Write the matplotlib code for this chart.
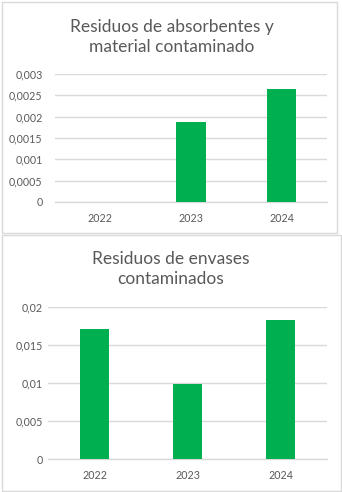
import matplotlib
matplotlib.use("Agg")
import matplotlib.pyplot as plt
from matplotlib.patches import Rectangle

# ---- data ----
years = ["2022", "2023", "2024"]
absorbentes = [0.0, 0.001875, 0.00266]
envases = [0.01714, 0.00991, 0.01833]
title_top = "Residuos de absorbentes y\nmaterial contaminado"
title_bottom = "Residuos de envases\ncontaminados"
yticks_top = [0, 0.0005, 0.001, 0.0015, 0.002, 0.0025, 0.003]
yticklabels_top = ["0", "0,0005", "0,001", "0,0015", "0,002", "0,0025", "0,003"]
yticks_bottom = [0, 0.005, 0.01, 0.015, 0.02]
yticklabels_bottom = ["0", "0,005", "0,01", "0,015", "0,02"]

W, H = 342, 492
GREEN = "#00B050"
GRID = "#d9d9d9"
TXT = "#595959"
FONT = ["Lato", "DejaVu Sans"]
plt.rcParams["font.family"] = FONT

fig = plt.figure(figsize=(W / 100, H / 100), dpi=100)
fig.patch.set_facecolor("white")


def px_axes(x0, y0, x1, y1):
    return fig.add_axes([x0 / W, (H - y1) / H, (x1 - x0) / W, (y1 - y0) / H])


def box(x0, y0, x1, y1):
    r = Rectangle((x0 / W, (H - y1) / H), (x1 - x0) / W, (y1 - y0) / H,
                  transform=fig.transFigure, fill=False, edgecolor=GRID, lw=1.0)
    fig.patches.append(r)


def draw(ax, values, ymax, ticks, labels, pad):
    x = range(len(years))
    ax.bar(x, values, width=0.32, color=GREEN, zorder=3)
    ax.set_xlim(-0.5, len(years) - 0.5)
    ax.set_ylim(0, ymax)
    ax.set_yticks(ticks)
    ax.set_yticklabels(labels)
    ax.set_xticks(list(x))
    ax.set_xticklabels(years)
    ax.tick_params(axis="y", length=0, pad=pad, labelsize=7.7, labelcolor=TXT)
    ax.tick_params(axis="x", length=0, pad=8, labelsize=7.7, labelcolor=TXT)
    for s in ["top", "right", "left"]:
        ax.spines[s].set_visible(False)
    ax.spines["bottom"].set_color(GRID)
    ax.spines["bottom"].set_linewidth(1.0)
    ax.grid(axis="y", color=GRID, lw=1.0, zorder=0)
    ax.set_axisbelow(True)
    ax.set_facecolor("none")


# chart borders
box(2, 2, 337, 233)
box(2, 234.5, 341, 490.5)

ax1 = px_axes(55, 74, 327, 202)
draw(ax1, absorbentes, 0.003, yticks_top, yticklabels_top, 9)
fig.text(171.5 / W, 1 - 37 / H, title_top, ha="center", va="center",
         fontsize=12.5, color=TXT, linespacing=1.38)

ax2 = px_axes(48, 307.3, 327, 459.3)
draw(ax2, envases, 0.02, yticks_bottom, yticklabels_bottom, 4)
fig.text(171 / W, 1 - 269 / H, title_bottom, ha="center", va="center",
         fontsize=12.5, color=TXT, linespacing=1.38)

fig.savefig("out.png", dpi=100)
